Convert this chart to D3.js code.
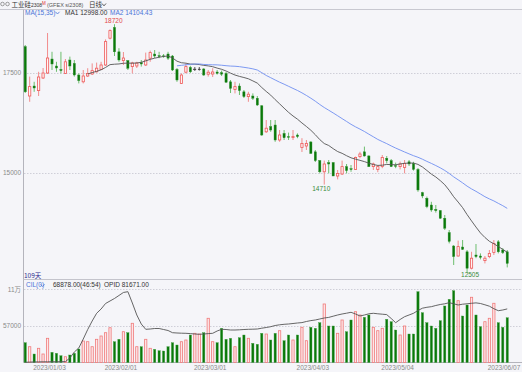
<!DOCTYPE html>
<html><head><meta charset="utf-8">
<script src="https://cdn.jsdelivr.net/npm/d3@7"></script>
<style>
body{margin:0;background:#f5f5f9;}
svg{display:block;font-family:"Liberation Sans",Arial,"Noto Sans CJK SC",sans-serif;}
</style></head><body>
<div id="chart"></div>
<script>
// daily candles, si2308 (index 0 = first trading day)
var open = [18160,16925,17175,17060,17375,17500,17850,17675,17590,17490,
  17825,17740,17450,17280,17425,17475,17530,17590,17700,18370,
  18640,18030,17810,17810,17660,17675,17760,17700,17870,17975,
  17935,17930,17975,17925,17590,17240,17520,17640,17600,17600,
  17600,17470,17475,17525,17510,17490,17280,17090,17175,17030,
  16910,16925,16870,16680,16030,16160,16200,15825,15990,15910,
  15890,15950,15640,15675,15775,15530,15310,15030,15260,15260,
  14925,14975,15160,15110,15090,15410,15530,15425,15160,15090,
  15160,15370,15310,15185,15160,15140,15280,15240,15090,14510,
  14370,14200,14090,14060,13870,13510,13175,12925,13150,13030,
  12620,12950,12925,12810,12910,13010,13280,13075,13030];
var close = [17030,17160,17125,17400,17500,17875,17725,17625,17560,17780,
  17675,17450,17310,17425,17490,17560,17620,17700,18285,18560,
  18030,17825,17875,17620,17750,17750,17725,17825,18010,17925,
  17910,17915,17870,17575,17325,17450,17660,17530,17600,17600,
  17450,17520,17525,17490,17470,17270,17115,17160,17060,16910,
  16970,16870,16700,15950,16120,16075,15825,15950,15880,15890,
  15910,15910,15740,15740,15490,15310,15030,15225,15225,14925,
  14990,15160,15060,15085,15390,15475,15425,15160,15225,15160,
  15390,15310,15160,15175,15225,15240,15225,15090,14575,14425,
  14160,14075,14060,13870,13620,13290,12910,13160,13090,12620,
  12870,12910,12890,12870,12990,13240,13030,13010,12740];
var high = [18200,17410,17280,17530,17625,18500,18030,17780,18030,17850,
  17910,17825,17490,17575,17620,17740,17760,17780,18340,18590,
  18720,18120,18025,17825,17780,17780,17825,18010,18060,18075,
  18030,17975,18030,17950,17625,17490,17740,17680,17650,17650,
  17625,17575,17620,17575,17560,17525,17325,17280,17240,17075,
  17030,16990,16925,16700,16325,16325,16325,16075,16075,16010,
  16075,15990,15870,15825,15800,15575,15325,15310,15325,15275,
  15075,15310,15225,15200,15410,15530,15660,15450,15260,15200,
  15450,15425,15350,15260,15285,15325,15325,15280,15125,14530,
  14410,14280,14200,14075,13950,13575,13200,13310,13325,13075,
  13030,13225,12990,12925,13075,13325,13325,13120,13075];
var low = [17000,16780,17030,16925,17350,17475,17575,17530,17490,17475,
  17575,17410,17240,17240,17400,17450,17510,17575,17675,18340,
  17925,17780,17700,17575,17490,17625,17660,17675,17780,17875,
  17870,17880,17825,17550,17280,17225,17490,17500,17550,17560,
  17425,17410,17400,17460,17425,17250,17000,16990,16950,16875,
  16780,16825,16675,15925,16000,16030,15780,15780,15825,15825,
  15825,15870,15525,15575,15475,15275,14990,14710,14990,14925,
  14840,14950,14990,15030,15075,15370,15410,15150,15075,15020,
  15120,15240,15150,15120,15090,14990,15175,15060,14530,14370,
  14120,14030,14010,13850,13575,13240,12700,12910,13075,12505,
  12590,12870,12840,12740,12870,12950,12990,12975,12640];
var volume = [32870,27090,16540,24780,16540,39230,19000,17550,14080,12640,
  15100,17550,23770,35330,34310,27090,37780,42550,47320,54540,
  34310,37780,48760,47320,60900,27090,27090,37780,24780,23330,
  21310,20880,27090,32870,29550,34310,36770,44000,46450,45440,
  47320,68130,34310,32870,53680,37780,39230,27090,40090,44000,
  39230,32000,30560,46450,45440,36770,46450,50210,35760,44000,
  36770,44000,55120,35760,55120,53680,61770,88790,57000,57000,
  46450,65670,48760,65670,77660,72900,69570,72900,55120,50210,
  53680,66680,63210,51220,44000,57000,45440,45440,106560,76220,
  61770,57000,53680,64660,85900,95580,108010,93560,71450,87350,
  98470,72900,56000,63210,68130,89800,61770,55120,68878];
var openInt = [4600,4900,5100,5200,5300,5300,5400,5400,5500,5600,
  10760,19430,25210,38215,51940,64225,75350,81570,89510,93125,
  96740,101070,105410,106560,90235,72900,59890,52230,52665,53390,
  53390,51940,50500,47320,46900,46600,46450,46020,45440,45000,
  45440,46020,46450,49775,52230,51940,51220,51220,51510,51940,
  52230,52375,52665,53820,54830,55990,57720,58730,59460,59890,
  60610,61335,61910,63500,64800,65670,67115,68560,69430,71160,
  72900,74340,75500,76800,74340,71450,72900,74630,75350,74630,
  74050,73470,67840,61770,66390,70440,72900,75350,79400,82720,
  84020,84890,86620,88070,89080,90670,89080,87345,88500,89080,
  89800,90380,89510,87630,85610,82000,79110,80120,81671];

var tickIdx = [6, 22, 42, 65, 84, 108];
var tickLabels = ["2023/01/03","2023/02/01","2023/03/01","2023/04/03","2023/05/04","2023/06/07"];
var priceTicks = [17500, 15000];
var volTicks = [110000, 57000];
var volTickLabels = ["11万", "57000"];
var maPeriods = [15, 35];

var W = 522, H = 372;
var left = 23, step = 4.463, base = 362.5;
var RED = "#ee5a5a", RED_FILL = "#fff3f3", GREEN = "#0a780a", GREEN_WICK = "#5db85d";

var svg = d3.select("#chart").append("svg").attr("width", W).attr("height", H);
svg.append("rect").attr("width", W).attr("height", H).attr("fill", "#f5f5f9");

var x = d3.scaleBand().domain(d3.range(close.length))
    .range([left, left + step * close.length]).paddingInner(0.32).paddingOuter(0.16);
var y = d3.scaleLinear().domain([15000, 17500]).range([173, 73]);
var yv = d3.scaleLinear().domain([57000, 110000]).range([326, 289.3]);
var bw = x.bandwidth();
function cx(i) { return x(i) + bw / 2; }

// frame lines
svg.append("line").attr("x1", 0).attr("x2", W).attr("y1", 9.5).attr("y2", 9.5).attr("stroke", "#c8c8d0");
svg.append("line").attr("x1", 23.5).attr("x2", 23.5).attr("y1", 9.5).attr("y2", base).attr("stroke", "#b4b4bc");
svg.append("line").attr("x1", 23.5).attr("x2", W).attr("y1", 279.5).attr("y2", 279.5).attr("stroke", "#c4c4cc");
svg.append("line").attr("x1", 23.5).attr("x2", W).attr("y1", base).attr("y2", base).attr("stroke", "#b4b4bc");

// grid + labels
svg.selectAll(".pgrid").data(priceTicks).enter().append("line")
    .attr("x1", 24).attr("x2", W).attr("y1", function(d) { return Math.round(y(d)) + 0.5; })
    .attr("y2", function(d) { return Math.round(y(d)) + 0.5; })
    .attr("stroke", "#cfcfd8").attr("stroke-dasharray", "1.5,1.5");
svg.selectAll(".plab").data(priceTicks).enter().append("text")
    .attr("x", 21).attr("y", function(d) { return y(d) + 2.3; })
    .attr("text-anchor", "end").attr("font-size", 6.5).attr("fill", "#8a8a8a")
    .text(function(d) { return d; });
svg.selectAll(".vgrid").data(volTicks).enter().append("line")
    .attr("x1", 24).attr("x2", W).attr("y1", function(d) { return Math.round(yv(d)) + 0.5; })
    .attr("y2", function(d) { return Math.round(yv(d)) + 0.5; })
    .attr("stroke", "#cfcfd8").attr("stroke-dasharray", "1.5,1.5");
svg.selectAll(".vlab").data(volTicks).enter().append("text")
    .attr("x", 21).attr("y", function(d) { return yv(d) + 2.3; })
    .attr("text-anchor", "end").attr("font-size", 6.5).attr("fill", "#8a8a8a")
    .text(function(d, i) { return volTickLabels[i]; });

// date labels
svg.selectAll(".dlab").data(tickIdx).enter().append("text")
    .attr("x", function(d) { return Math.min(cx(d) - 2.5, W - 18); }).attr("y", 369.5)
    .attr("text-anchor", "middle").attr("font-size", 6.5).attr("fill", "#8a8a8a")
    .text(function(d, i) { return tickLabels[i]; });

// candles
var idx = d3.range(close.length);
function dir(i) { return close[i] > open[i] ? 1 : (close[i] < open[i] ? -1 : 0); }
var g = svg.append("g");
g.selectAll(".wick").data(idx).enter().append("line")
    .attr("x1", cx).attr("x2", cx)
    .attr("y1", function(i) { return y(high[i]); }).attr("y2", function(i) { return y(low[i]); })
    .attr("stroke", function(i) { return dir(i) > 0 ? "#f08080" : dir(i) < 0 ? GREEN_WICK : "#444"; })
    .attr("stroke-width", 0.9);
g.selectAll(".body").data(idx).enter().append("rect")
    .attr("x", function(i) { return x(i) + 0.4; }).attr("width", bw - 0.8)
    .attr("y", function(i) { return y(Math.max(open[i], close[i])); })
    .attr("height", function(i) { return Math.max(0.8, Math.abs(y(open[i]) - y(close[i]))); })
    .attr("fill", function(i) { return dir(i) > 0 ? RED_FILL : dir(i) < 0 ? GREEN : "#444"; })
    .attr("stroke", function(i) { return dir(i) > 0 ? RED : dir(i) < 0 ? "#2f8f2f" : "#444"; })
    .attr("stroke-width", function(i) { return dir(i) > 0 ? 0.8 : 0.4; });

// moving averages
var maColors = ["#555555", "#6f8ff0"];
maPeriods.forEach(function(p, k) {
    var ma = idx.map(function(i) { return i < p - 1 ? null : d3.mean(close.slice(i - p + 1, i + 1)); });
    svg.append("path").datum(idx)
        .attr("d", d3.line().defined(function(i) { return ma[i] !== null; })
            .x(cx).y(function(i) { return y(ma[i]); }))
        .attr("fill", "none").attr("stroke", maColors[k]).attr("stroke-width", 0.9);
});

// extreme labels
var iHi = d3.maxIndex(high), iLo = d3.minIndex(low);
var iMid = 60 + d3.minIndex(low.slice(60, 80));
svg.append("text").attr("x", cx(iHi) - 1).attr("y", y(high[iHi]) - 1).attr("text-anchor", "middle")
    .attr("font-size", 6.5).attr("fill", "#e24a4a").text(high[iHi]);
svg.append("text").attr("x", cx(iMid) - 3).attr("y", y(low[iMid]) + 6.5).attr("text-anchor", "middle")
    .attr("font-size", 6.5).attr("fill", "#3a8a3a").text(low[iMid]);
svg.append("text").attr("x", cx(iLo) + 3).attr("y", y(low[iLo]) + 4).attr("text-anchor", "middle")
    .attr("font-size", 6.5).attr("fill", "#3a8a3a").text(low[iLo]);

// volume bars
var gv = svg.append("g");
gv.selectAll(".vol").data(idx).enter().append("rect")
    .attr("x", function(i) { return x(i) + 0.4; }).attr("width", bw - 0.8)
    .attr("y", function(i) { return yv(volume[i]); })
    .attr("height", function(i) { return base - yv(volume[i]); })
    .attr("fill", function(i) { return dir(i) >= 0 ? "#fde6e8" : GREEN; })
    .attr("stroke", function(i) { return dir(i) >= 0 ? "#f07a7a" : "#3e9e3e"; })
    .attr("stroke-width", function(i) { return dir(i) >= 0 ? 0.8 : 0.4; });

// open interest
svg.append("path").datum(idx)
    .attr("d", d3.line().x(cx).y(function(i) { return yv(openInt[i]); }))
    .attr("fill", "none").attr("stroke", "#555").attr("stroke-width", 0.9);

// header texts
var hdr = svg.append("g").attr("font-size", 6.5);
hdr.append("circle").attr("cx", 2.5).attr("cy", 4).attr("r", 1.8).attr("fill", "none").attr("stroke", "#777").attr("stroke-width", 0.7);
hdr.append("circle").attr("cx", 7.5).attr("cy", 4).attr("r", 1.8).attr("fill", "none").attr("stroke", "#777").attr("stroke-width", 0.7);
hdr.append("text").attr("x", 11.5).attr("y", 6.5).attr("font-family", "Noto Sans CJK SC").attr("font-size", 6.5).attr("fill", "#333").text("工业硅");
hdr.append("text").attr("x", 31).attr("y", 6.5).attr("font-size", 5).attr("fill", "#333").text("2308");
hdr.append("text").attr("x", 42).attr("y", 4.5).attr("font-size", 4.5).attr("fill", "#e03030").text("M");
hdr.append("text").attr("x", 47).attr("y", 6.5).attr("font-size", 5.5).attr("fill", "#555").text("(GFEX si2308)");
hdr.append("text").attr("x", 89).attr("y", 6.5).attr("font-family", "Noto Sans CJK SC").attr("font-size", 6.5).attr("fill", "#333").text("日线");
hdr.append("path").attr("d", "M102,3.5 L104,5.8 L106,3.5").attr("fill", "none").attr("stroke", "#333").attr("stroke-width", 0.8);

var ma1 = d3.mean(close.slice(-15)), ma2 = d3.mean(close.slice(-35));
hdr.append("text").attr("x", 25).attr("y", 15).attr("fill", "#4a74d8").text("MA(15,35)");
hdr.append("path").attr("d", "M55.5,11.8 L57.5,14 L59.5,11.8").attr("fill", "none").attr("stroke", "#4a74d8").attr("stroke-width", 0.8);
hdr.append("text").attr("x", 65).attr("y", 15).attr("fill", "#333").text("MA1 12998.00");
hdr.append("text").attr("x", 110).attr("y", 15).attr("fill", "#4a74d8").text("MA2 14104.43");

hdr.append("text").attr("x", 24).attr("y", 277.5).attr("font-family", "Noto Sans CJK SC").attr("fill", "#2f2f8f").text(close.length + "天");
hdr.append("text").attr("x", 26).attr("y", 287.3).attr("fill", "#4a74d8").text("CIL(0)");
hdr.append("path").attr("d", "M40.5,284.3 L42.5,286.5 L44.5,284.3").attr("fill", "none").attr("stroke", "#4a74d8").attr("stroke-width", 0.8);
hdr.append("text").attr("x", 53).attr("y", 287.3).attr("fill", "#333").text(d3.format(".2f")(volume[volume.length - 1]) + "(46:54)");
hdr.append("text").attr("x", 104).attr("y", 287.3).attr("fill", "#333").text("OPID " + d3.format(".2f")(openInt[openInt.length - 1]));
</script>
</body></html>
